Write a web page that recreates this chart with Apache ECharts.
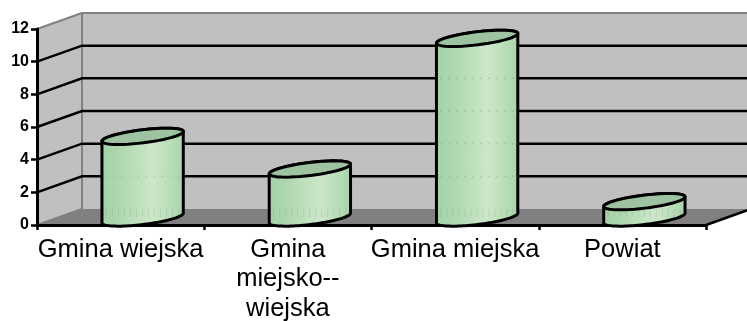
<!DOCTYPE html>
<html>
<head>
<meta charset="utf-8">
<style>html,body{margin:0;padding:0;background:#fff}#chart{width:747px;height:321px}</style>
<script src="https://cdn.jsdelivr.net/npm/echarts@6/dist/echarts.min.js"></script>
</head>
<body>
<div id="chart"></div>
<script>
const categories = ['Gmina wiejska', 'Gmina\nmiejsko--\nwiejska', 'Gmina miejska', 'Powiat'];
const values = [5, 3, 11, 1];
const yTicks = [0, 2, 4, 6, 8, 10, 12];
const innerTicks = [2, 4, 6, 8, 10];

// Depth of the pseudo-3D box, in pixels.
const DX = 45, DY = -16;
const BLACK = '#000';
const WALL = '#c0c0c0', FLOOR = '#808080', EDGE = '#808080';

function ellipsePoint(c, a, b, th, t) {
  const ca = Math.cos(t), sa = Math.sin(t);
  return [c[0] + a * ca * Math.cos(th) - b * sa * Math.sin(th),
          c[1] + a * ca * Math.sin(th) + b * sa * Math.cos(th)];
}
function ellipseRing(c, a, b, th, from, to) {
  const pts = [];
  for (let i = 0; i <= 48; i++) pts.push(ellipsePoint(c, a, b, th, from + (to - from) * i / 48));
  return pts;
}

// Back wall, side wall and floor of the chart box.
function renderBox(params, api) {
  const cs = params.coordSys;
  const l = cs.x, t = cs.y, r = cs.x + cs.width, b = cs.y + cs.height;
  const poly = (points, fill) => ({type: 'polygon', shape: {points}, style: {fill}});
  const edge = (p, q) => ({type: 'line', shape: {x1: p[0], y1: p[1], x2: q[0], y2: q[1]},
    style: {stroke: EDGE, lineWidth: 2}});
  return {type: 'group', children: [
    poly([[l + DX, t + DY], [r + DX, t + DY], [r + DX, b + DY], [l + DX, b + DY]], WALL),
    poly([[l, t], [l + DX, t + DY], [l + DX, b + DY], [l, b]], WALL),
    poly([[l, b], [l + DX, b + DY], [r + DX, b + DY], [r, b]], FLOOR),
    edge([l, t], [l + DX, t + DY]),
    edge([l + DX, t + DY], [r + DX, t + DY]),
    edge([l + DX, t + DY], [l + DX, b + DY]),
    edge([l, b], [l + DX, b + DY]),
    {type: 'line', shape: {x1: r, y1: b, x2: r + DX, y2: b + DY}, style: {stroke: BLACK, lineWidth: 2.5}}
  ]};
}

// One gridline: along the side wall, then across the back wall.
function renderGrid(params, api) {
  const cs = params.coordSys;
  const p = api.coord([0, api.value(1)]);
  const y = p[1];
  return {type: 'polyline',
    shape: {points: [[cs.x, y], [cs.x + DX, y + DY], [cs.x + cs.width + DX, y + DY]]},
    style: {fill: 'none', stroke: BLACK, lineWidth: 2.5}};
}

// One cylinder standing on the floor at mid depth.
function renderCylinder(params, api) {
  const top = api.coord([api.value(0), api.value(1)]);
  const base = api.coord([api.value(0), 0]);
  const band = api.size([1, 0])[0];
  const a = band * 0.2451, b = 6.5, th = -7 * Math.PI / 180;
  const topC = [top[0] + DX / 2 - 0.5, top[1] + DY / 2 + 1];
  const botC = [base[0] + DX / 2 - 0.5, base[1] + DY / 2 + 1];
  const tLeft = Math.PI + Math.atan((b / a) * Math.tan(th)) ;
  const tRight = tLeft - Math.PI;
  // Outline: far half of the top rim, then near half of the base rim.
  const outline = ellipseRing(topC, a, b, th, tLeft, tRight + 2 * Math.PI)
    .concat(ellipseRing(botC, a, b, th, tRight, tLeft));
  const leftX = ellipsePoint(topC, a, b, th, tLeft)[0];
  const rightX = ellipsePoint(topC, a, b, th, tRight)[0];
  const sheen = {type: 'linear', x: 0, y: 0, x2: 1, y2: 0, colorStops: [
    {offset: 0, color: '#a3d2a7'}, {offset: 0.2, color: '#acd7ae'}, {offset: 0.45, color: '#bfe0bd'},
    {offset: 0.62, color: '#cde6ca'}, {offset: 0.8, color: '#bcdfbb'}, {offset: 1, color: '#a6d4a9'}]};
  const children = [{type: 'polygon', shape: {points: outline},
    style: {fill: sheen, stroke: BLACK, lineWidth: 3, lineJoin: 'round'}}];
  // Faint dots where the back gridlines show through the body.
  innerTicks.forEach(v => {
    const y = api.coord([0, v])[1] + DY;
    if (y > top[1] + 4 && y < base[1]) {
      children.push({type: 'line', shape: {x1: leftX + 4, y1: y, x2: rightX - 4, y2: y},
        style: {stroke: 'rgba(60,80,60,0.3)', lineWidth: 1.5, lineDash: [1, 7]}});
    }
  });
  children.push({type: 'line',
    shape: {x1: leftX + 4, y1: base[1] + DY + 4, x2: rightX - 4, y2: base[1] + DY + 4},
    style: {stroke: 'rgba(60,80,60,0.12)', lineWidth: 8, lineDash: [1, 5]}});
  children.push({type: 'polygon', shape: {points: ellipseRing(topC, a, b, th, 0, 2 * Math.PI)},
    style: {fill: '#9dc3a1', stroke: BLACK, lineWidth: 3, lineJoin: 'round'}});
  return {type: 'group', children};
}

const chart = echarts.init(document.getElementById('chart'), null, {renderer: 'canvas'});
chart.setOption({
  animation: false,
  backgroundColor: '#fff',
  grid: {left: 37, right: 41, top: 29, height: 196, containLabel: false, outerBoundsMode: 'none'},
  xAxis: {
    type: 'category', data: categories, z: 3,
    axisLine: {lineStyle: {color: BLACK, width: 3}},
    axisTick: {show: true, alignWithLabel: false, length: 5, lineStyle: {color: BLACK, width: 2.5}},
    axisLabel: {interval: 0, color: BLACK, fontFamily: 'Liberation Sans', fontSize: 25.5, lineHeight: 29.5, margin: 10}
  },
  yAxis: {
    type: 'value', min: 0, max: 12, interval: 2, z: 3,
    axisLine: {show: true, lineStyle: {color: BLACK, width: 3}},
    axisTick: {show: true, length: 6, lineStyle: {color: BLACK, width: 2.5}},
    axisLabel: {color: BLACK, fontFamily: 'Liberation Sans', fontWeight: 'bold', fontSize: 16, margin: 8,
      customValues: yTicks},
    splitLine: {show: false}
  },
  series: [
    {type: 'custom', z: 0, silent: true, renderItem: renderBox, data: [[0, 0]], encode: {x: 0, y: 1}},
    {type: 'custom', z: 1, silent: true, renderItem: renderGrid,
      data: innerTicks.map(v => [0, v]), encode: {x: 0, y: 1}},
    {type: 'custom', z: 5, renderItem: renderCylinder,
      data: values.map((v, i) => [i, v]), encode: {x: 0, y: 1}}
  ]
});
</script>
</body>
</html>
